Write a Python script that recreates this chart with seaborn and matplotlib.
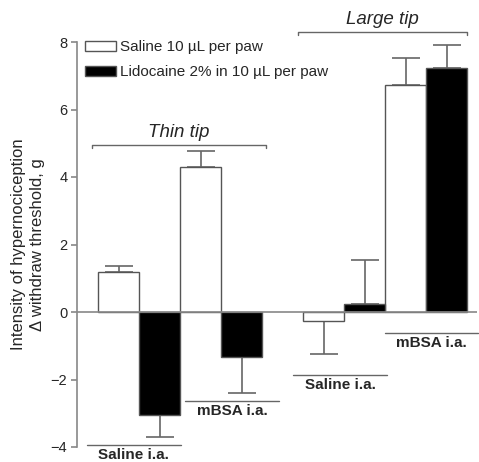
import matplotlib
matplotlib.use("Agg")
import matplotlib.pyplot as plt
import seaborn as sns
import pandas as pd
import numpy as np

# ---- data ----
bar_ids = ["S1", "L1", "S2", "L2", "S3", "L3", "S4", "L4"]
treatments = ["Saline 10 \u00b5L per paw", "Lidocaine 2% in 10 \u00b5L per paw"] * 4
values = [1.20, -3.05, 4.30, -1.32, -0.27, 0.23, 6.72, 7.22]
errors = [0.16, 0.65, 0.47, 1.07, 0.98, 1.32, 0.82, 0.68]
group_labels = ["Saline i.a.", "mBSA i.a.", "Saline i.a.", "mBSA i.a."]
tip_labels = ["Thin tip", "Large tip"]
yticks = [-4, -2, 0, 2, 4, 6, 8]

sns.set_theme(style="white")
plt.rcParams['font.family'] = ['Liberation Sans', 'DejaVu Sans']

order = ["S1", "L1", "S2", "L2", "gap", "S3", "L3", "S4", "L4"]
df = pd.DataFrame({"bar": bar_ids, "value": values, "treatment": treatments})

fig = plt.figure(figsize=(4.79, 4.62), dpi=100)
ax = fig.add_axes([77/479, (462-447)/462, (477-77)/479, (447-42)/462])

edge = "#555555"
sns.barplot(data=df, x="bar", y="value", hue="treatment", order=order,
            palette={treatments[0]: "white", treatments[1]: "black"},
            dodge=False, width=1.0, edgecolor=edge, linewidth=1.0,
            errorbar=None, ax=ax)

# one-sided error bars, away from zero
pos = [order.index(b) for b in bar_ids]
v = np.array(values)
e = np.array(errors)
lower = np.where(v < 0, e, 0)
upper = np.where(v >= 0, e, 0)
ax.errorbar(pos, v, yerr=[lower, upper], fmt="none", ecolor="#666666",
            elinewidth=1.2, capsize=10, capthick=1.2, zorder=1)
for p in ax.patches:
    p.set_zorder(2)

ax.axhline(0, color="#888888", lw=1.2, zorder=3)

ax.set_xlim(-1.012, 8.74)
ax.set_ylim(-4, 8)
ax.set_yticks(yticks)
ax.set_yticklabels([str(t).replace("-", "\u2212") for t in yticks], fontsize=10.5)
ax.set_xticks([])
ax.set_xlabel("")
ax.set_ylabel("Intensity of hypernociception\n\u0394 withdraw threshold, g", fontsize=12,
              labelpad=4, linespacing=1.3)
for s in ["top", "right", "bottom"]:
    ax.spines[s].set_visible(False)
ax.spines["left"].set_color("#888888")
ax.spines["left"].set_linewidth(1.2)
ax.tick_params(axis="y", direction="out", length=4, width=1.2, color="#888888", pad=3, left=True)

# group underlines and labels
group_spans = [(-0.77, 1.52, -3.94), (1.62, 3.92, -2.63), (4.26, 6.55, -1.86), (6.5, 8.77, -0.62)]
for (x0, x1, y), lab in zip(group_spans, group_labels):
    ax.plot([x0, x1], [y, y], color="#666666", lw=1.0, clip_on=False)
    ax.text((x0 + x1) / 2, y - 0.1, lab, ha="center", va="top", fontsize=11,
            fontweight="bold", clip_on=False)

# tip brackets
brackets = [(-0.646, 3.6, 4.96), (4.38, 8.5, 8.3)]
for (x0, x1, y), lab in zip(brackets, tip_labels):
    ax.plot([x0, x0, x1, x1], [y - 0.1, y, y, y - 0.1], color="#666666", lw=1.0, clip_on=False)
    ax.text((x0 + x1) / 2, y + 0.12, lab, ha="center", va="bottom", fontsize=13.5,
            fontstyle="italic", clip_on=False)

leg = ax.legend(loc="upper left", bbox_to_anchor=(0.005, 1.02), frameon=False,
                fontsize=11, handlelength=2.0, handleheight=0.65,
                labelspacing=0.75, handletextpad=0.3, borderaxespad=0)
for h in leg.legend_handles:
    h.set_edgecolor(edge)

fig.savefig("out.png", dpi=100)
